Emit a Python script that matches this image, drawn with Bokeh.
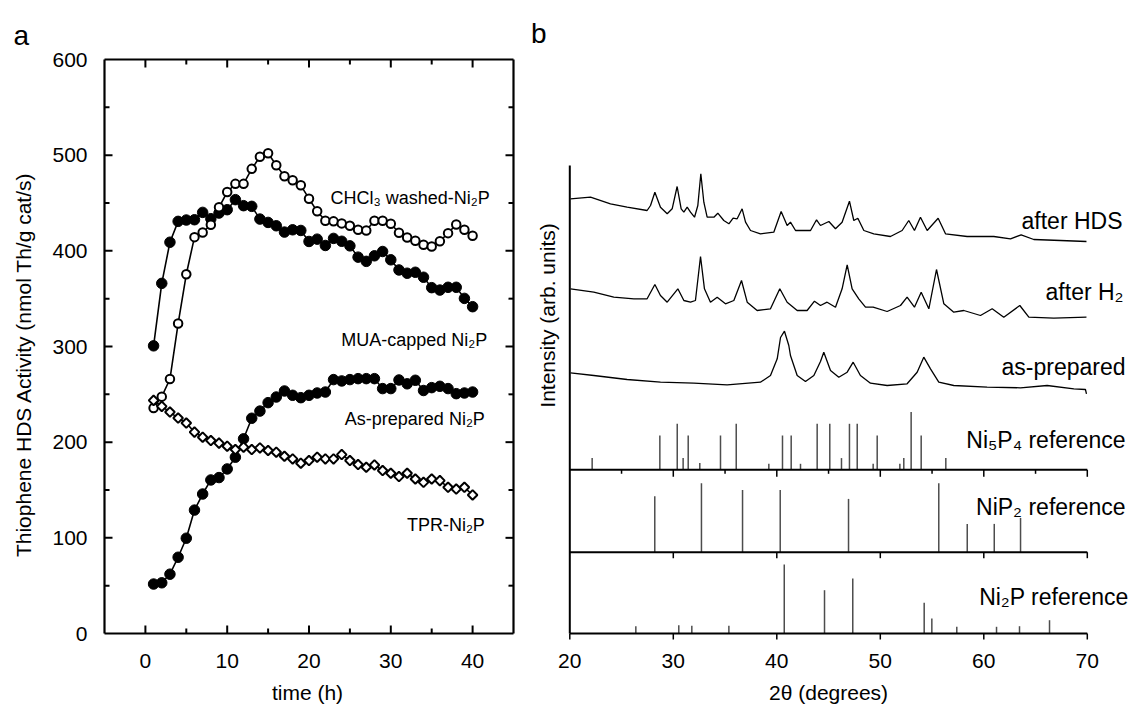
import numpy as np
from bokeh.plotting import figure
from bokeh.models import Range1d
from bokeh.layouts import row
from bokeh.embed import file_html
from bokeh.resources import INLINE
from bokeh.core.properties import value

FONT = "Liberation Sans"

# ---------------- panel a data ----------------
time_h = list(range(1, 41))
chcl3_washed = [235.7, 247.6, 266.0, 324.0, 375.5, 414.3, 419.2, 427.3, 445.5, 461.5,
                470.0, 470.0, 485.7, 498.3, 502.0, 489.5, 478.0, 473.8, 468.5, 454.5,
                441.3, 431.5, 430.8, 428.7, 426.2, 422.0, 421.3, 431.5, 431.5, 428.3,
                418.9, 414.0, 410.5, 406.3, 404.5, 410.0, 418.5, 427.6, 422.0, 415.7]
mua_capped = [300.7, 366.0, 409.0, 430.8, 432.2, 432.5, 440.2, 433.6, 439.5, 443.0,
              453.5, 447.2, 446.5, 433.2, 429.7, 426.2, 419.6, 422.0, 421.3, 409.8,
              412.2, 405.6, 413.0, 410.0, 405.2, 393.4, 389.0, 394.8, 399.3, 390.6,
              380.0, 376.6, 377.6, 372.4, 361.5, 359.0, 361.9, 361.9, 350.3, 341.6]
as_prepared = [51.7, 53.0, 62.0, 79.7, 99.6, 129.0, 145.8, 160.5, 163.0, 172.0,
               184.3, 203.5, 225.0, 232.5, 241.3, 247.2, 253.5, 249.0, 246.5, 249.0,
               251.4, 252.4, 265.4, 264.0, 265.4, 266.4, 266.4, 266.4, 256.0, 256.0,
               265.0, 261.0, 264.7, 254.0, 257.0, 258.4, 256.0, 250.7, 251.4, 252.4]
tpr = [243.7, 237.4, 231.5, 225.2, 220.0, 210.5, 205.2, 201.7, 199.0, 195.8,
       192.3, 194.8, 192.3, 194.0, 191.3, 189.5, 185.3, 182.5, 178.0, 180.8,
       184.3, 182.5, 182.5, 187.0, 180.8, 176.6, 173.8, 176.2, 170.3, 167.5,
       164.0, 167.5, 161.5, 158.0, 161.5, 159.8, 152.8, 151.0, 152.8, 144.8]
series_labels_a = ["CHCl\u2083 washed-Ni\u2082P", "MUA-capped Ni\u2082P",
                   "As-prepared Ni\u2082P", "TPR-Ni\u2082P"]
a_xticks = [0, 10, 20, 30, 40]
a_xminor = [5, 15, 25, 35]
a_yticks = [0, 100, 200, 300, 400, 500, 600]
a_yminor = [50, 150, 250, 350, 450, 550]

# ---------------- panel b data ----------------
hds_2theta = [20.07, 22.0, 23.93, 25.54, 27.47, 27.8, 28.22, 28.76, 29.41, 29.89, 30.37, 30.76,
              31.02, 31.34, 31.66, 32.05, 32.37, 32.66, 32.95, 33.27, 33.92, 34.30, 34.88, 35.37,
              35.78, 36.17, 36.65, 36.98, 37.46, 38.42, 39.71, 40.42, 41.0, 41.32, 41.81, 43.26,
              43.84, 44.22, 45.03, 45.67, 46.31, 47.02, 47.44, 47.83, 48.41, 49.37, 50.98, 52.11,
              52.75, 53.30, 53.88, 54.53, 55.59, 56.30, 58.39, 60.97, 62.58, 63.61, 64.83, 67.41, 69.92]
hds_int = [44.7, 46.3, 39.7, 36.3, 33.0, 38.0, 51.3, 36.3, 29.7, 34.7, 57.0, 34.7,
           31.3, 36.3, 31.3, 26.3, 38.0, 69.7, 41.3, 26.3, 26.3, 30.3, 23.0, 19.7,
           25.3, 24.7, 34.7, 21.3, 13.0, 9.7, 11.3, 32.0, 18.0, 21.3, 13.0, 13.0,
           23.7, 18.0, 22.0, 14.7, 21.3, 42.3, 23.0, 25.3, 13.0, 9.7, 7.0, 13.0,
           23.0, 13.0, 26.3, 13.0, 25.3, 9.7, 7.0, 7.0, 4.7, 8.7, 4.0, 3.0, 2.0]

h2_2theta = [20.07, 22.32, 24.25, 26.19, 27.47, 28.22, 28.76, 29.41, 30.44, 31.02, 31.66, 32.14,
             32.63, 33.01, 33.59, 34.24, 35.04, 35.85, 36.59, 37.14, 38.10, 39.39, 40.29, 41.0,
             41.97, 42.93, 43.64, 44.22, 44.86, 45.67, 46.31, 46.80, 47.28, 47.92, 48.57, 49.31,
             50.66, 51.95, 52.59, 53.30, 53.95, 54.69, 55.43, 56.14, 57.10, 58.07, 59.68, 60.81,
             61.93, 63.48, 64.35, 66.76, 69.92]
h2_int = [32.7, 29.3, 24.3, 22.7, 22.7, 37.0, 26.0, 19.3, 32.7, 21.0, 19.3, 21.0,
          65.0, 32.7, 19.3, 24.3, 17.7, 21.0, 41.0, 19.3, 11.0, 12.7, 32.7, 19.3,
          11.0, 11.0, 20.3, 16.0, 19.3, 14.3, 32.7, 56.7, 32.7, 22.7, 14.3, 14.3,
          10.0, 16.0, 24.3, 14.3, 29.3, 12.7, 52.0, 17.7, 9.3, 11.0, 6.0, 12.7,
          4.3, 16.0, 4.3, 3.3, 4.3]

asp_2theta = [20.07, 22.32, 25.54, 28.76, 31.98, 35.20, 38.42, 39.39, 40.04, 40.36, 40.74, 41.16,
              41.32, 41.97, 42.77, 43.58, 44.22, 44.54, 45.19, 45.99, 46.80, 47.38, 48.08, 49.05,
              50.66, 52.59, 53.56, 54.20, 54.85, 55.65, 57.10, 60.32, 63.54, 66.12, 68.70, 69.82, 69.92]
asp_int = [22.7, 20.0, 16.0, 13.3, 12.3, 10.7, 13.3, 20.0, 36.7, 58.0, 64.3, 50.0,
           40.0, 20.0, 14.0, 20.0, 34.0, 43.3, 25.0, 18.3, 23.3, 33.3, 20.0, 12.3,
           10.0, 11.7, 23.3, 38.3, 26.7, 13.3, 10.0, 8.3, 7.7, 10.0, 6.7, 6.0, 1.7]

ni5p4_pos = [22.16, 28.70, 30.38, 30.95, 31.44, 32.56, 34.56, 36.08, 39.23, 40.55, 41.39, 42.29,
             43.90, 45.12, 46.25, 47.02, 47.77, 49.31, 49.70, 51.89, 52.27, 52.98, 53.95, 56.33]
ni5p4_int = [11.7, 34.3, 46.0, 11.7, 34.3, 6.7, 34.3, 46.0, 6.0, 34.3, 34.3, 6.0,
             46.0, 46.0, 11.7, 46.0, 46.0, 6.0, 34.3, 6.0, 11.7, 57.7, 34.3, 11.7]
nip2_pos = [28.21, 32.72, 36.69, 40.33, 46.93, 55.65, 58.40, 61.01, 63.55]
nip2_int = [56.0, 69.0, 62.3, 62.3, 53.3, 69.0, 28.3, 28.3, 34.3]
ni2p_pos = [26.38, 30.53, 31.79, 35.37, 40.72, 44.61, 47.34, 54.24, 54.98, 57.39, 61.23, 63.45, 66.35]
ni2p_int = [7.3, 8.3, 7.7, 7.7, 69.0, 43.3, 55.0, 30.7, 15.0, 6.7, 6.7, 7.3, 13.3]

trace_labels = ["after HDS", "after H\u2082", "as-prepared"]
ref_labels = ["Ni\u2085P\u2084 reference", "NiP\u2082 reference", "Ni\u2082P reference"]
b_xticks = [20, 30, 40, 50, 60, 70]
b_subticks_major = [30, 40, 50, 60, 70]
b_subticks_minor = [25, 35, 45, 55, 65]

TXT = dict(text_font=value(FONT), text_color="black")

# ================= panel a =================
# the whole figure is the plotting frame; the frame box is drawn explicitly
W1, H = 530, 704
SX = 409 / 50.0          # px per hour
SY = 574 / 600.0         # px per activity unit
XL, XR, YB, YT = -5, 45, 0, 600
x0a = XL - 104 / SX
x1a = XL + (W1 - 104) / SX
y0a = YB - (H - 633) / SY
y1a = YB + 633 / SY

p1 = figure(width=W1, height=H, x_range=Range1d(x0a, x1a), y_range=Range1d(y0a, y1a),
            output_backend="svg", toolbar_location=None,
            x_axis_location=None, y_axis_location=None,
            min_border=0, min_border_left=0, min_border_right=0,
            min_border_top=0, min_border_bottom=0)
p1.grid.grid_line_color = None
p1.outline_line_color = None
p1.background_fill_color = "white"
p1.border_fill_color = "white"

for ys in (chcl3_washed, mua_capped, as_prepared, tpr):
    p1.line(time_h, ys, line_color="black", line_width=1.6)
p1.scatter(time_h, mua_capped, marker="circle", size=10.5, fill_color="black", line_color="black")
p1.scatter(time_h, as_prepared, marker="circle", size=10.5, fill_color="black", line_color="black")
p1.scatter(time_h, chcl3_washed, marker="circle", size=8.5, fill_color="white",
           line_color="black", line_width=2)
p1.scatter(time_h, tpr, marker="square", angle=np.pi / 4, size=6.8, fill_color="white",
           line_color="black", line_width=2)

# frame box
p1.segment(x0=[XL, XL, XL, XR], y0=[YB, YT, YB, YB], x1=[XR, XR, XL, XR], y1=[YB, YT, YT, YT],
           line_color="black", line_width=2.2)
# ticks (inside, on all four sides)
MAJ, MIN = 8, 5
xm = np.array(a_xticks, float); xn = np.array(a_xminor, float)
ym = np.array(a_yticks, float); yn = np.array(a_yminor, float)
for xs_, L in ((xm, MAJ), (xn, MIN)):
    n = len(xs_)
    p1.segment(x0=xs_, y0=np.full(n, YB), x1=xs_, y1=np.full(n, YB + L / SY), line_color="black", line_width=2)
    p1.segment(x0=xs_, y0=np.full(n, YT), x1=xs_, y1=np.full(n, YT - L / SY), line_color="black", line_width=2)
for ys_, L in ((ym[1:-1], MAJ), (yn, MIN)):
    n = len(ys_)
    p1.segment(x0=np.full(n, XL), y0=ys_, x1=np.full(n, XL + L / SX), y1=ys_, line_color="black", line_width=2)
    p1.segment(x0=np.full(n, XR), y0=ys_, x1=np.full(n, XR - L / SX), y1=ys_, line_color="black", line_width=2)

# tick labels
p1.text(x=xm, y=np.full(len(xm), YB - 27 / SY), text=[str(int(v)) for v in xm],
        text_align="center", text_baseline="middle", text_font_size="21px", **TXT)
p1.text(x=np.full(len(ym), XL - 17 / SX), y=ym, text=[str(int(v)) for v in ym],
        text_align="right", text_baseline="middle", text_font_size="21px", **TXT)
# axis titles
p1.text(x=[XL + (307 - 104) / SX], y=[YB - 59 / SY], text=["time (h)"], text_align="center",
        text_baseline="middle", text_font_size="21px", **TXT)
p1.text(x=[XL - 81 / SX], y=[YB + 269 / SY], text=["Thiophene HDS Activity (nmol Th/g cat/s)"],
        angle=np.pi / 2, text_align="center", text_baseline="middle", text_font_size="21px", **TXT)
p1.text(x=[XL - 91 / SX], y=[YB + 598 / SY], text=["a"], text_align="left",
        text_baseline="alphabetic", text_font_size="28px", **TXT)
# series labels
p1.text(x=[42.1, 41.8, 41.5, 41.5], y=[455.4, 306.3, 224.4, 112.9], text=series_labels_a,
        text_align="right", text_baseline="alphabetic", text_font_size="18px", **TXT)

# ================= panel b =================
W2 = 1134 - W1
SXB = 10.35               # px per degree; y data unit = 1 px above the bottom axis
x0b = 20 - (569.3 - W1) / SXB
x1b = 20 + (1134 - 569.3) / SXB
p2 = figure(width=W2, height=H, x_range=Range1d(x0b, x1b), y_range=Range1d(-(H - 633), 633),
            output_backend="svg", toolbar_location=None,
            x_axis_location=None, y_axis_location=None,
            min_border=0, min_border_left=0, min_border_right=0,
            min_border_top=0, min_border_bottom=0)
p2.grid.grid_line_color = None
p2.outline_line_color = None
p2.background_fill_color = "white"
p2.border_fill_color = "white"

trace_offsets = [390, 312, 238]
for xs, ys, off in ((hds_2theta, hds_int, trace_offsets[0]),
                    (h2_2theta, h2_int, trace_offsets[1]),
                    (asp_2theta, asp_int, trace_offsets[2])):
    p2.line(xs, np.array(ys) + off, line_color="black", line_width=1.3)

ref_baselines = [163.7, 81.3, 0.0]
for pos, hh, base in ((ni5p4_pos, ni5p4_int, ref_baselines[0]),
                      (nip2_pos, nip2_int, ref_baselines[1]),
                      (ni2p_pos, ni2p_int, ref_baselines[2])):
    pos = np.array(pos)
    p2.segment(x0=pos, y0=np.full(len(pos), base), x1=pos, y1=base + np.array(hh),
               line_color="#4d4d4d", line_width=1.5)

# baselines (incl. bottom axis) and left axis line
for base in ref_baselines:
    p2.segment(x0=[20], y0=[base], x1=[70], y1=[base], line_color="black", line_width=2)
p2.segment(x0=[20], y0=[0], x1=[20], y1=[468], line_color="black", line_width=2)
bm = np.array(b_subticks_major, float); bn = np.array(b_subticks_minor, float)
p2.segment(x0=bm, y0=np.full(5, ref_baselines[0]), x1=bm, y1=np.full(5, ref_baselines[0] - 7),
           line_color="black", line_width=1.5)
p2.segment(x0=bn, y0=np.full(5, ref_baselines[0]), x1=bn, y1=np.full(5, ref_baselines[0] - 4),
           line_color="black", line_width=1.5)
p2.segment(x0=bm, y0=np.full(5, ref_baselines[1]), x1=bm, y1=np.full(5, ref_baselines[1] - 6),
           line_color="black", line_width=1.5)
bt = np.array(b_xticks, float)
p2.segment(x0=bt, y0=np.zeros(len(bt)), x1=bt, y1=np.full(len(bt), -6.0), line_color="black", line_width=1.5)
p2.text(x=bt, y=np.full(len(bt), -27.0), text=[str(int(v)) for v in bt], text_align="center",
        text_baseline="middle", text_font_size="21px", **TXT)
p2.text(x=[45.0], y=[-59.0], text=["2\u03b8 (degrees)"], text_align="center",
        text_baseline="middle", text_font_size="21px", **TXT)

p2.text(x=[73.4, 73.5, 73.7], y=[413, 341.3, 266.3], text=trace_labels, text_align="right",
        text_baseline="alphabetic", text_font_size="23px", **TXT)
p2.text(x=[73.7, 73.7, 74.0], y=[193.7, 126.3, 36.3], text=ref_labels, text_align="right",
        text_baseline="alphabetic", text_font_size="23px", **TXT)
p2.text(x=[16.25], y=[600], text=["b"], text_align="left", text_baseline="alphabetic",
        text_font_size="28px", **TXT)
p2.text(x=[17.85], y=[318], text=["Intensity (arb. units)"], angle=np.pi / 2, text_align="center",
        text_baseline="middle", text_font_size="21px", **TXT)

layout = row(p1, p2)
open("out.html", "w").write(file_html(layout, INLINE))
